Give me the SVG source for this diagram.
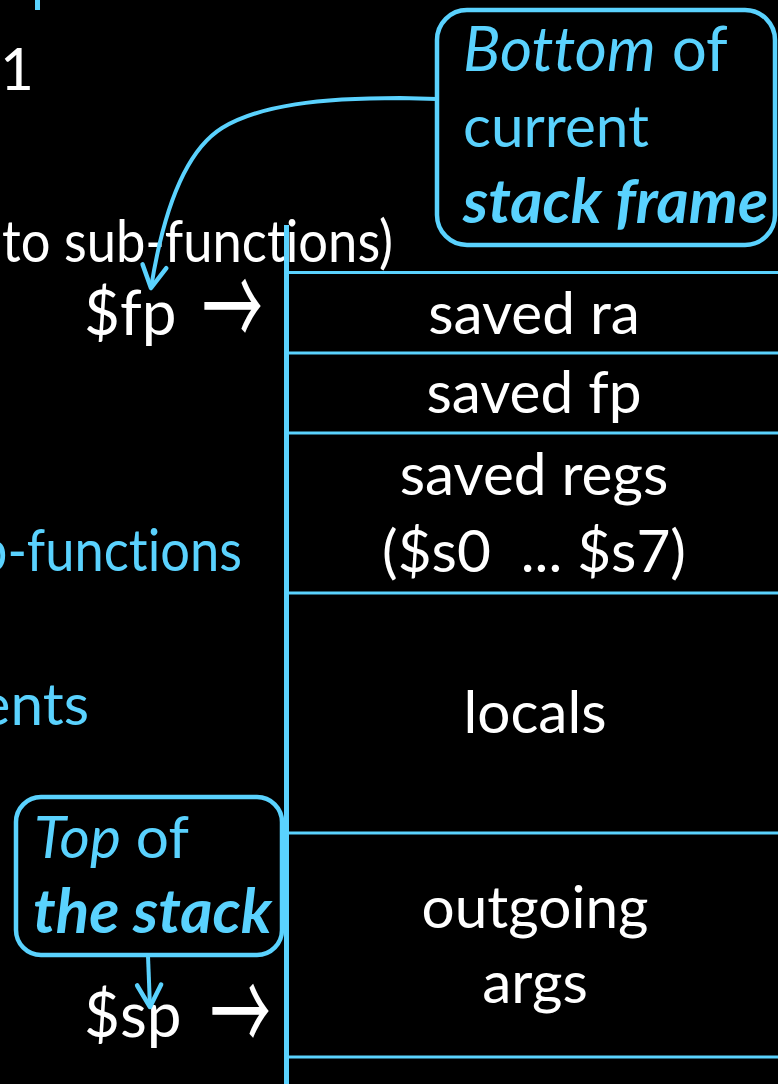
<svg xmlns="http://www.w3.org/2000/svg" width="778" height="1084" viewBox="0 0 778 1084">
  <style>
    text { font-variant-ligatures: none; font-feature-settings: "liga" 0, "clig" 0; }
    .w { fill: #FFFFFF; font-family: Lato, "Open Sans", sans-serif; font-size: 58.5px; }
    .c { fill: #5AD2FE; font-family: Lato, "Open Sans", sans-serif; font-size: 58.5px; }
    .big { font-size: 62px; }
    .mid { text-anchor: middle; }
    .it { font-style: italic; }
    .bi { font-style: italic; font-weight: bold; }
    .arr { font-family: "Noto Sans CJK JP", "DejaVu Sans", sans-serif; font-size: 64px; font-weight: 400; }
    .rule { fill: #5AD2FE; }
    .box { fill: #000000; stroke: #5AD2FE; stroke-width: 4.5; }
    .link { fill: none; stroke: #5AD2FE; stroke-width: 4; }
  </style>
  <defs>
    <marker id="vhead" viewBox="-26 -16 30 32" markerWidth="30" markerHeight="32" refX="0" refY="0" markerUnits="userSpaceOnUse" orient="auto">
      <path d="M-22,-12 L0,0 L-22,12" fill="none" stroke="#5AD2FE" stroke-width="4.5" stroke-linecap="round" stroke-linejoin="round"/>
    </marker>
  </defs>

  <rect width="778" height="1084" fill="#000000"/>

  <!-- background text on the left -->
  <g id="left-text">
    <rect class="rule" x="35" y="0" width="5" height="10"/>
    <text class="w" x="0" y="90">1</text>
    <text class="w" x="2" y="262" textLength="391" lengthAdjust="spacingAndGlyphs">to sub-functions)</text>
    <text class="c" x="-22" y="571" textLength="264" lengthAdjust="spacingAndGlyphs">b-functions</text>
    <text class="c" x="89" y="725" text-anchor="end">ents</text>
  </g>

  <!-- stack frame column -->
  <g id="frame">
    <rect class="rule" x="284" y="225" width="5" height="859"/>
    <rect class="rule" x="289" y="271" width="489" height="3"/>
    <rect class="rule" x="289" y="351.5" width="489" height="3"/>
    <rect class="rule" x="289" y="431.5" width="489" height="3"/>
    <rect class="rule" x="289" y="591.5" width="489" height="3"/>
    <rect class="rule" x="289" y="831.5" width="489" height="3"/>
    <rect class="rule" x="289" y="1055.5" width="489" height="3"/>
  </g>

  <g id="saved-ra"><text class="w mid" x="534" y="334">saved ra</text></g>
  <g id="saved-fp"><text class="w mid" x="534" y="413">saved fp</text></g>
  <g id="saved-regs">
    <text class="w mid" x="534" y="495">saved regs</text>
    <text class="w mid" x="534" y="572" xml:space="preserve">($s0  ... $s7)</text>
  </g>
  <g id="locals"><text class="w mid" x="535" y="733">locals</text></g>
  <g id="outgoing-args">
    <text class="w mid" x="535" y="928">outgoing</text>
    <text class="w mid" x="535" y="1003">args</text>
  </g>

  <!-- register pointers; the arrow glyph is stretched upward -->
  <g id="fp-pointer">
    <text class="w big" x="84" y="335">$fp</text>
    <text class="w arr" transform="translate(202,349) scale(0.95,1.8)">→</text>
  </g>
  <g id="sp-pointer">
    <text class="w big" x="84" y="1037">$sp</text>
    <text class="w arr" transform="translate(210,1054) scale(0.95,1.8)">→</text>
  </g>

  <!-- callout boxes -->
  <g id="bottom-callout">
    <rect class="box" x="437" y="10" width="338" height="235" rx="30" ry="30"/>
    <text class="c big" x="463" y="71"><tspan class="it">Bottom</tspan> of</text>
    <text class="c" x="463" y="147">current</text>
    <text class="c big bi" x="463" y="223">stack frame</text>
  </g>
  <g id="top-callout">
    <rect class="box" x="16" y="797" width="266" height="158" rx="25" ry="25"/>
    <text class="c" x="34" y="858"><tspan class="it">Top</tspan> of</text>
    <text class="c big bi" x="33" y="933">the stack</text>
  </g>

  <!-- connectors -->
  <g id="connectors">
    <path class="link" d="M437,99 L400,98 C320,98 260,105 222,128 C190,148 165,200 151,288" marker-end="url(#vhead)"/>
    <path class="link" d="M148,956 L150,1007" marker-end="url(#vhead)"/>
  </g>
</svg>
